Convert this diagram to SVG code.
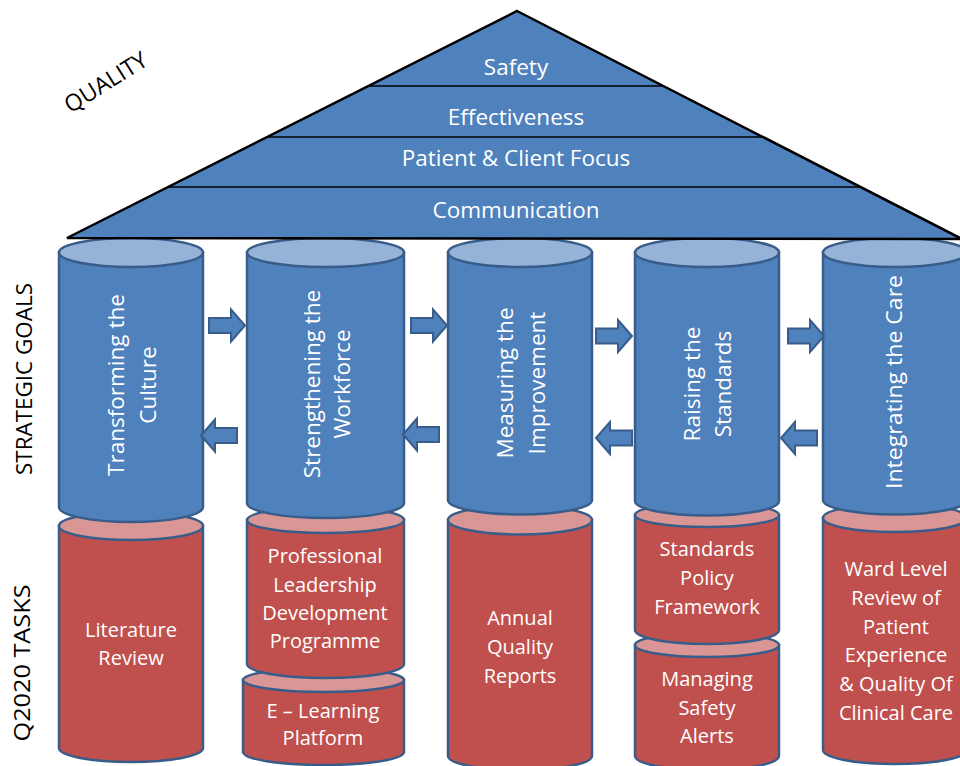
<svg xmlns="http://www.w3.org/2000/svg" xmlns:xlink="http://www.w3.org/1999/xlink" width="960" height="766" viewBox="0 0 960 766">
  <style>
    .blue { fill: #4f81bd; stroke: #385d8a; stroke-width: 2.5; }
    .blueTop { fill: #95b3d7; stroke: #385d8a; stroke-width: 2.5; }
    .red { fill: #c0504d; stroke: #385d8a; stroke-width: 2.5; }
    .redTop { fill: #d99694; stroke: #385d8a; stroke-width: 2.5; }
    .arrow { fill: #4f81bd; stroke: #385d8a; stroke-width: 2; stroke-linejoin: miter; }
    .roof { fill: #4f81bd; stroke: #000; stroke-width: 2.5; stroke-linejoin: miter; }
    .tier { stroke: #000; stroke-width: 1.5; }
    text { font-family: "Open Sans", "Noto Sans", sans-serif; }
    .wt { fill: #fff; text-anchor: middle; }
    .roofText { font-size: 22.5px; }
    .goal { font-size: 22.5px; }
    .task { font-size: 20px; }
    .side { fill: #000; font-size: 21px; text-anchor: middle; }
    .quality { font-size: 23px; }
  </style>
  <defs>
    <!-- block arrow, origin at tail centre, pointing right -->
    <path id="blockArrow" class="arrow" d="M0,-7.5 H22 V-16 L36,0 L22,16 V7.5 H0 Z"/>
  </defs>

  <!-- Q2020 task cylinders (drawn first so goal pillars sit on them) -->
  <g id="task-literature-review">
    <path class="red" d="M59,526 V748 A72,14 0 0 0 203,748 V526 Z"/>
    <ellipse class="redTop" cx="131" cy="526" rx="72" ry="14"/>
    <text class="wt task" x="131" y="637">Literature</text>
    <text class="wt task" x="131" y="665">Review</text>
  </g>
  <g id="task-e-learning">
    <path class="red" d="M243,680 V752 A80.5,13 0 0 0 404,752 V680 Z"/>
    <ellipse class="redTop" cx="323.5" cy="680" rx="80.5" ry="12"/>
    <text class="wt task" x="323" y="718">E – Learning</text>
    <text class="wt task" x="323" y="745">Platform</text>
  </g>
  <g id="task-leadership">
    <path class="red" d="M247,520 V664 A78.5,14 0 0 0 404,664 V520 Z"/>
    <ellipse class="redTop" cx="325.5" cy="520" rx="78.5" ry="13"/>
    <text class="wt task" x="325" y="563">Professional</text>
    <text class="wt task" x="325" y="591.5">Leadership</text>
    <text class="wt task" x="325" y="620">Development</text>
    <text class="wt task" x="325" y="648">Programme</text>
  </g>
  <g id="task-annual-reports">
    <path class="red" d="M448,520 V756 A72,14 0 0 0 592,756 V520 Z"/>
    <ellipse class="redTop" cx="520" cy="520" rx="72" ry="14.5"/>
    <text class="wt task" x="520" y="625">Annual</text>
    <text class="wt task" x="520" y="654">Quality</text>
    <text class="wt task" x="520" y="683">Reports</text>
  </g>
  <g id="task-safety-alerts">
    <path class="red" d="M635,645 V756 A72,14 0 0 0 779,756 V645 Z"/>
    <ellipse class="redTop" cx="707" cy="645" rx="72" ry="12"/>
    <text class="wt task" x="707" y="686">Managing</text>
    <text class="wt task" x="707" y="715">Safety</text>
    <text class="wt task" x="707" y="743">Alerts</text>
  </g>
  <g id="task-standards-policy">
    <path class="red" d="M635,515 V630 A72,14 0 0 0 779,630 V515 Z"/>
    <ellipse class="redTop" cx="707" cy="515" rx="72" ry="12"/>
    <text class="wt task" x="707" y="556">Standards</text>
    <text class="wt task" x="707" y="585">Policy</text>
    <text class="wt task" x="707" y="614">Framework</text>
  </g>
  <g id="task-ward-review">
    <path class="red" d="M823,518 V750 A72,14 0 0 0 967,750 V518 Z"/>
    <ellipse class="redTop" cx="895" cy="518" rx="72" ry="14"/>
    <text class="wt task" x="896" y="576">Ward Level</text>
    <text class="wt task" x="896" y="605">Review of</text>
    <text class="wt task" x="896" y="634">Patient</text>
    <text class="wt task" x="896" y="662">Experience</text>
    <text class="wt task" x="896" y="691">&amp; Quality Of</text>
    <text class="wt task" x="896" y="720">Clinical Care</text>
  </g>

  <!-- strategic goal pillars -->
  <g id="goal-culture">
    <path class="blue" d="M59,252.5 V507 A72,15 0 0 0 203,507 V252.5 Z"/>
    <ellipse class="blueTop" cx="131" cy="252.5" rx="72" ry="14.5"/>
    <text class="wt goal" transform="translate(124,385) rotate(-90)">Transforming the</text>
    <text class="wt goal" transform="translate(156,385) rotate(-90)">Culture</text>
  </g>
  <g id="goal-workforce">
    <path class="blue" d="M247,252.5 V503 A78.5,15 0 0 0 404,503 V252.5 Z"/>
    <ellipse class="blueTop" cx="325.5" cy="252.5" rx="78.5" ry="14.5"/>
    <text class="wt goal" transform="translate(319.5,384) rotate(-90)">Strengthening the</text>
    <text class="wt goal" transform="translate(350,384) rotate(-90)">Workforce</text>
  </g>
  <g id="goal-improvement">
    <path class="blue" d="M448,252.5 V500 A72,14.5 0 0 0 592,500 V252.5 Z"/>
    <ellipse class="blueTop" cx="520" cy="252.5" rx="72" ry="14.5"/>
    <text class="wt goal" transform="translate(513,383) rotate(-90)">Measuring the</text>
    <text class="wt goal" transform="translate(545,383) rotate(-90)">Improvement</text>
  </g>
  <g id="goal-standards">
    <path class="blue" d="M635,252.5 V501 A72,14.5 0 0 0 779,501 V252.5 Z"/>
    <ellipse class="blueTop" cx="707" cy="252.5" rx="72" ry="14.5"/>
    <text class="wt goal" transform="translate(700,384) rotate(-90)">Raising the</text>
    <text class="wt goal" transform="translate(731,384) rotate(-90)">Standards</text>
  </g>
  <g id="goal-care">
    <path class="blue" d="M823,252.5 V500 A72,14.5 0 0 0 967,500 V252.5 Z"/>
    <ellipse class="blueTop" cx="895" cy="252.5" rx="72" ry="14.5"/>
    <text class="wt goal" transform="translate(902,382) rotate(-90)" textLength="214" lengthAdjust="spacingAndGlyphs">Integrating the Care</text>
  </g>

  <!-- connectors between pillars -->
  <g id="connectors">
    <use xlink:href="#blockArrow" transform="translate(209,325.5)"/>
    <use xlink:href="#blockArrow" transform="translate(411,325.5)"/>
    <use xlink:href="#blockArrow" transform="translate(596,336)"/>
    <use xlink:href="#blockArrow" transform="translate(788,336)"/>
    <use xlink:href="#blockArrow" transform="translate(237,435.5) scale(-1,1)"/>
    <use xlink:href="#blockArrow" transform="translate(439,434.5) scale(-1,1)"/>
    <use xlink:href="#blockArrow" transform="translate(632,438) scale(-1,1)"/>
    <use xlink:href="#blockArrow" transform="translate(817,438) scale(-1,1)"/>
  </g>

  <!-- quality roof -->
  <g id="roof">
    <polygon class="roof" points="517,11 962,239 67,238"/>
    <line class="tier" x1="368.3" y1="86" x2="663.4" y2="86"/>
    <line class="tier" x1="267.2" y1="137" x2="762.9" y2="137"/>
    <line class="tier" x1="168.1" y1="187" x2="860.5" y2="187"/>
    <text class="wt roofText" x="516" y="75">Safety</text>
    <text class="wt roofText" x="516" y="125">Effectiveness</text>
    <text class="wt roofText" x="516" y="166">Patient &amp; Client Focus</text>
    <text class="wt roofText" x="516" y="218">Communication</text>
  </g>

  <!-- row labels -->
  <g id="labels">
    <text class="side quality" transform="translate(110,89) rotate(-32)">QUALITY</text>
    <text class="side" transform="translate(32,379) rotate(-90)" textLength="192" lengthAdjust="spacingAndGlyphs">STRATEGIC GOALS</text>
    <text class="side" transform="translate(30,663) rotate(-90)" textLength="157" lengthAdjust="spacingAndGlyphs">Q2020 TASKS</text>
  </g>
</svg>
